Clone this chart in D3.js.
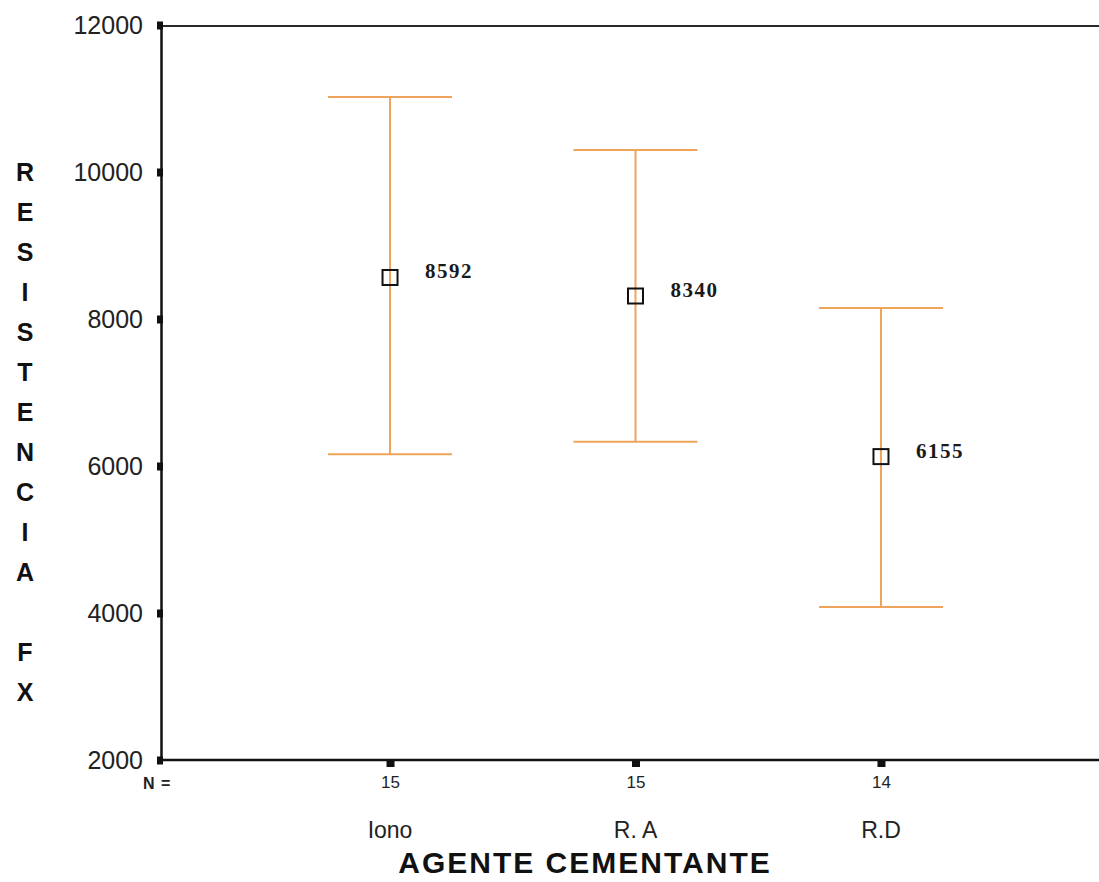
<!DOCTYPE html>
<html>
<head>
<meta charset="utf-8">
<script src="https://cdn.jsdelivr.net/npm/d3@7"></script>
<style>
  body { margin: 0; background: #fff; }
  svg { display: block; }
</style>
</head>
<body>
<svg></svg>
<script>
// data
const categories = ["Iono", "R. A", "R.D"];
const counts = [15, 15, 14];
const means = [8592, 8340, 6155];
const upper = [11020, 10300, 8150];
const lower = [6160, 6330, 4080];
const yTicks = [2000, 4000, 6000, 8000, 10000, 12000];
const yTitle = ["R", "E", "S", "I", "S", "T", "E", "N", "C", "I", "A", "", "F", "X"];

let width = 1099;
let height = 882;
let svg = d3.select("svg")
  .attr("width", width)
  .attr("height", height);

const plotLeft = 161, plotRight = 1110, plotTop = 25, plotBottom = 760;
const barColor = "#eea45a";

let y = d3.scaleLinear().domain([2000, 12000]).range([plotBottom, plotTop]);
let x = d3.scalePoint().domain(categories).range([plotLeft, plotRight]).padding(0.933);

const rows = categories.map((c, i) => ({
  cat: c, n: counts[i], mean: means[i], hi: upper[i], lo: lower[i]
}));

// top frame line
svg.append("line")
  .attr("x1", plotLeft).attr("x2", width)
  .attr("y1", plotTop + 1).attr("y2", plotTop + 1)
  .attr("stroke", "#2a2a2a").attr("stroke-width", 2);

// y axis
let yAxis = d3.axisLeft(y).tickValues(yTicks).tickSize(0).tickPadding(18)
  .tickFormat(d3.format("d"));
let gy = svg.append("g").attr("transform", `translate(${plotLeft},0)`).call(yAxis);
gy.select(".domain").attr("stroke", "#111").attr("stroke-width", 2.5);
gy.selectAll("text")
  .attr("font-family", "Liberation Sans, Arial, sans-serif")
  .attr("font-size", 25)
  .attr("fill", "#222");
gy.selectAll(".tick").append("rect")
  .attr("x", -4).attr("y", -4).attr("width", 6).attr("height", 8)
  .attr("fill", "#111");

// x axis
let xAxis = d3.axisBottom(x).tickSize(0).tickFormat((d, i) => counts[i]).tickPadding(16);
let gx = svg.append("g").attr("transform", `translate(0,${plotBottom})`).call(xAxis);
gx.select(".domain").attr("d", `M${plotLeft},0H${width}`)
  .attr("stroke", "#111").attr("stroke-width", 2.5);
gx.selectAll("text")
  .attr("font-family", "Liberation Sans, Arial, sans-serif")
  .attr("font-size", 17)
  .attr("fill", "#222");
gx.selectAll(".tick").append("rect")
  .attr("x", -4).attr("y", 0).attr("width", 8).attr("height", 7)
  .attr("fill", "#111");

svg.append("text")
  .attr("x", 143).attr("y", 789)
  .attr("font-family", "Liberation Sans, Arial, sans-serif")
  .attr("font-size", 16).attr("font-weight", "bold")
  .attr("letter-spacing", 1)
  .attr("fill", "#222")
  .text("N =");

// category names
svg.append("g")
  .selectAll("text")
  .data(categories)
  .enter()
  .append("text")
  .attr("x", (d) => x(d))
  .attr("y", 838)
  .attr("text-anchor", "middle")
  .attr("font-family", "Liberation Sans, Arial, sans-serif")
  .attr("font-size", 23)
  .attr("fill", "#222")
  .text((d) => d);

// axis titles
svg.append("text")
  .attr("x", 585).attr("y", 873)
  .attr("text-anchor", "middle")
  .attr("font-family", "Liberation Sans, Arial, sans-serif")
  .attr("font-size", 30)
  .attr("font-weight", "bold")
  .attr("letter-spacing", 2)
  .attr("fill", "#111")
  .text("AGENTE CEMENTANTE");

svg.append("g")
  .selectAll("text")
  .data(yTitle)
  .enter()
  .append("text")
  .attr("x", 25)
  .attr("y", (d, i) => 181 + i * 40)
  .attr("text-anchor", "middle")
  .attr("font-family", "Liberation Sans, Arial, sans-serif")
  .attr("font-size", 25)
  .attr("font-weight", "bold")
  .attr("fill", "#111")
  .text((d) => d);

// error bars
const cap = 62;
let bars = svg.append("g").attr("id", "bars")
  .selectAll("g")
  .data(rows)
  .enter()
  .append("g");

bars.append("line")
  .attr("x1", (d) => x(d.cat)).attr("x2", (d) => x(d.cat))
  .attr("y1", (d) => y(d.hi)).attr("y2", (d) => y(d.lo))
  .attr("stroke", barColor).attr("stroke-width", 2);
bars.append("line")
  .attr("x1", (d) => x(d.cat) - cap).attr("x2", (d) => x(d.cat) + cap)
  .attr("y1", (d) => y(d.hi)).attr("y2", (d) => y(d.hi))
  .attr("stroke", barColor).attr("stroke-width", 2);
bars.append("line")
  .attr("x1", (d) => x(d.cat) - cap).attr("x2", (d) => x(d.cat) + cap)
  .attr("y1", (d) => y(d.lo)).attr("y2", (d) => y(d.lo))
  .attr("stroke", barColor).attr("stroke-width", 2);

// mean markers
bars.append("rect")
  .attr("x", (d) => x(d.cat) - 7.5)
  .attr("y", (d) => y(d.mean) - 7.5 + 2)
  .attr("width", 15).attr("height", 15)
  .attr("fill", "none")
  .attr("stroke", "#111").attr("stroke-width", 2);

bars.append("text")
  .attr("x", (d) => x(d.cat) + 35)
  .attr("y", (d) => y(d.mean) + 3)
  .attr("font-family", "Liberation Serif, Times New Roman, serif")
  .attr("font-size", 21)
  .attr("font-weight", "bold")
  .attr("letter-spacing", 1.5)
  .attr("fill", "#1a1a1a")
  .text((d) => d.mean);
</script>
</body>
</html>
